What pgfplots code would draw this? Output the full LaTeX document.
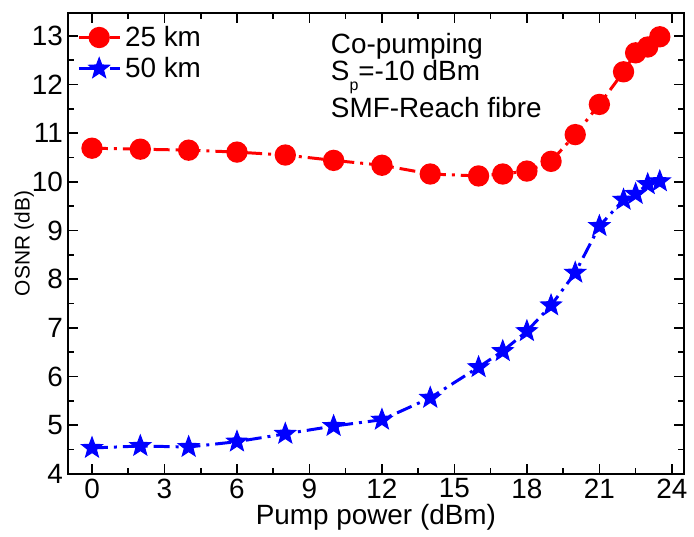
\documentclass[border=0pt]{standalone}
\usepackage{pgfplots}
\pgfplotsset{compat=1.18}
\usepackage{fontspec}
\setmainfont{Liberation Sans}
\pgfdeclareplotmark{fstar}{%
  \pgfpathmoveto{\pgfpointpolar{90}{\pgfplotmarksize}}%
  \pgfpathlineto{\pgfpointpolar{126}{0.42\pgfplotmarksize}}%
  \pgfpathlineto{\pgfpointpolar{162}{\pgfplotmarksize}}%
  \pgfpathlineto{\pgfpointpolar{198}{0.42\pgfplotmarksize}}%
  \pgfpathlineto{\pgfpointpolar{234}{\pgfplotmarksize}}%
  \pgfpathlineto{\pgfpointpolar{270}{0.42\pgfplotmarksize}}%
  \pgfpathlineto{\pgfpointpolar{306}{\pgfplotmarksize}}%
  \pgfpathlineto{\pgfpointpolar{342}{0.42\pgfplotmarksize}}%
  \pgfpathlineto{\pgfpointpolar{18}{\pgfplotmarksize}}%
  \pgfpathlineto{\pgfpointpolar{54}{0.42\pgfplotmarksize}}%
  \pgfpathclose
  \pgfusepathqfillstroke
}
\begin{document}
\begin{tikzpicture}
\begin{axis}[
  scale only axis,
  width=309.5pt, height=231.5pt,
  xmin=-1, xmax=24.5, ymin=4, ymax=13.47,
  xtick={0,3,...,24}, ytick={4,5,...,13},
  minor x tick num=1, minor y tick num=1,
  tick align=inside, tick pos=both,
  major tick length=5pt, minor tick length=3pt,
  axis line style={line width=1pt},
  every tick/.style={black, line width=0.8pt},
  /pgf/number format/assume math mode=true,
  tick label style={font=\fontsize{14}{16}\selectfont},
  xticklabel style={yshift=1pt},
  yticklabel style={xshift=1pt},
  xlabel={Pump power (dBm)}, ylabel={OSNR (dB)},
  xlabel style={font=\fontsize{14}{16}\selectfont, yshift=4pt},
  ylabel style={font=\fontsize{10.5}{12}\selectfont, yshift=-8pt},
  legend style={draw=none, fill=none, at={(0.005,0.99)}, anchor=north west, font=\fontsize{14}{16}\selectfont, row sep=0pt},
  legend cell align=left,
  legend image code/.code={\draw[mark repeat=2,mark phase=2] plot coordinates {(0cm,0cm) (0.36cm,0cm) (0.72cm,0cm)};},
  every axis plot/.append style={line width=1.5pt, dash pattern=on 8pt off 3pt on 1.5pt off 3pt},
]
\addplot[red, mark=*, mark size=4.6pt, mark options={solid, fill=red}] coordinates {
(0,10.69) (2,10.67) (4,10.65) (6,10.61) (8,10.55) (10,10.44) (12,10.34) (14,10.16) (16,10.12) (17,10.16) (18,10.22) (19,10.42) (20,10.97) (21,11.59) (22,12.26) (22.5,12.65) (23,12.77) (23.5,12.98)};
\addlegendentry{25 km}
\addplot[blue, mark=fstar, mark size=5.5pt, mark options={solid, fill=blue, line width=0.5pt}] coordinates {
(0,4.53) (2,4.57) (4,4.55) (6,4.66) (8,4.82) (10,4.98) (12,5.11) (14,5.56) (16,6.19) (17,6.52) (18,6.93) (19,7.46) (20,8.13) (21,9.09) (22,9.63) (22.5,9.75) (23,9.95) (23.5,10.01)};
\addlegendentry{50 km}
\node[anchor=west, font=\fontsize{14}{16}\selectfont] at (axis cs:9.6,12.78) {Co-pumping};
\node[anchor=west, font=\fontsize{14}{16}\selectfont] at (axis cs:9.6,12.15) {S\raisebox{-0.7ex}{\fontsize{8}{9}\selectfont p}=-10 dBm};
\node[anchor=west, font=\fontsize{14}{16}\selectfont] at (axis cs:9.6,11.52) {SMF-Reach fibre};
\end{axis}
\path (current bounding box.north) ++(0,6pt) coordinate (topmargin);
\path (current bounding box.west) ++(-4pt,0) coordinate (leftmargin);
\end{tikzpicture}
\end{document}
